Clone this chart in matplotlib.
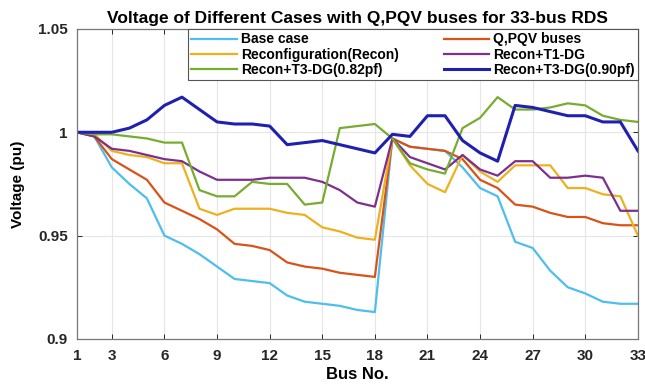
import matplotlib
matplotlib.use("Agg")
import matplotlib.pyplot as plt
import numpy as np

plt.rcParams['font.family'] = ['Liberation Sans', 'DejaVu Sans']

bus = np.arange(1, 34)

base_case = [1.000, 0.998, 0.983, 0.975, 0.968, 0.950, 0.946, 0.941, 0.935, 0.929,
             0.928, 0.927, 0.921, 0.918, 0.917, 0.916, 0.914, 0.913, 0.997, 0.993,
             0.992, 0.991, 0.983, 0.973, 0.969, 0.947, 0.944, 0.933, 0.925, 0.922,
             0.918, 0.917, 0.917]
q_pqv = [1.000, 0.998, 0.987, 0.982, 0.977, 0.966, 0.962, 0.958, 0.953, 0.946,
         0.945, 0.943, 0.937, 0.935, 0.934, 0.932, 0.931, 0.930, 0.997, 0.993,
         0.992, 0.991, 0.987, 0.977, 0.973, 0.965, 0.964, 0.961, 0.959, 0.959,
         0.956, 0.955, 0.955]
recon = [1.000, 0.999, 0.991, 0.989, 0.988, 0.985, 0.985, 0.963, 0.960, 0.963,
         0.963, 0.963, 0.961, 0.960, 0.954, 0.952, 0.949, 0.948, 0.997, 0.984,
         0.975, 0.971, 0.989, 0.981, 0.976, 0.984, 0.984, 0.984, 0.973, 0.973,
         0.970, 0.969, 0.950]
recon_t1 = [1.000, 0.998, 0.992, 0.991, 0.989, 0.987, 0.986, 0.981, 0.977, 0.977,
            0.977, 0.978, 0.978, 0.978, 0.976, 0.972, 0.966, 0.964, 0.997, 0.988,
            0.985, 0.982, 0.989, 0.982, 0.979, 0.986, 0.986, 0.978, 0.978, 0.979,
            0.978, 0.962, 0.962]
recon_t3_082 = [1.000, 0.999, 0.999, 0.998, 0.997, 0.995, 0.995, 0.972, 0.969, 0.969,
                0.976, 0.975, 0.975, 0.965, 0.966, 1.002, 1.003, 1.004, 0.997, 0.985,
                0.982, 0.980, 1.002, 1.007, 1.017, 1.011, 1.011, 1.012, 1.014, 1.013,
                1.008, 1.006, 1.005]
recon_t3_090 = [1.000, 1.000, 1.000, 1.002, 1.006, 1.013, 1.017, 1.011, 1.005, 1.004,
                1.004, 1.003, 0.994, 0.995, 0.996, 0.994, 0.992, 0.990, 0.999, 0.998,
                1.008, 1.008, 0.996, 0.990, 0.986, 1.013, 1.012, 1.010, 1.008, 1.008,
                1.005, 1.005, 0.991]

xticks = [1, 3, 6, 9, 12, 15, 18, 21, 24, 27, 30, 33]
yticks = [0.9, 0.95, 1.0, 1.05]
ytick_labels = ['0.9', '0.95', '1', '1.05']

fig = plt.figure(figsize=(6.45, 3.86), dpi=100)
ax = fig.add_axes([0.119, 0.122, 0.870, 0.803])

l1, = ax.plot(bus, base_case, color='#4DBEEE', lw=1.6, label='Base case')
l2, = ax.plot(bus, q_pqv, color='#D95319', lw=1.6, label='Q,PQV buses')
l3, = ax.plot(bus, recon, color='#EDB120', lw=1.6, label='Reconfiguration(Recon)')
l4, = ax.plot(bus, recon_t1, color='#7E2F8E', lw=1.6, label='Recon+T1-DG')
l5, = ax.plot(bus, recon_t3_082, color='#77AC30', lw=1.6, label='Recon+T3-DG(0.82pf)')
l6, = ax.plot(bus, recon_t3_090, color='#2020B0', lw=2.2, label='Recon+T3-DG(0.90pf)')

ax.set_xlim(1, 33)
ax.set_ylim(0.9, 1.05)
ax.set_xticks(xticks)
ax.set_yticks(yticks)
ax.set_yticklabels(ytick_labels)
ax.grid(True, color='#E6E6E6', lw=0.8)
ax.set_axisbelow(True)
for s in ax.spines.values():
    s.set_color('#777777')
    s.set_linewidth(0.9)
ax.tick_params(labelsize=11, colors='#262626', direction='in', length=3.5, width=0.7,
               top=True, right=True)
ax.tick_params(axis='y', pad=6.5)
ax.tick_params(axis='x', pad=7)
for lab in ax.get_xticklabels() + ax.get_yticklabels():
    lab.set_fontweight('bold')

ax.set_title('Voltage of Different Cases with Q,PQV buses for 33-bus RDS',
             fontsize=12.5, fontweight='bold', pad=4)
ax.set_xlabel('Bus No.', fontsize=12, fontweight='bold', labelpad=3)
ax.set_ylabel('Voltage (pu)', fontsize=11, fontweight='bold', labelpad=9)

# row-wise order like the original
handles = [l1, l3, l5, l2, l4, l6]
leg = ax.legend(handles, [h.get_label() for h in handles], ncol=2,
                loc='upper left', bbox_to_anchor=(0.198, 1.0, 0.802, 0.0),
                mode='expand', borderaxespad=0,
                prop={'size': 10, 'weight': 'bold'}, fancybox=False, framealpha=1,
                edgecolor='#555555', handlelength=3.3, handletextpad=0.25,
                columnspacing=0.6, labelspacing=0.08, borderpad=0.25)
leg.get_frame().set_linewidth(0.8)

fig.savefig('out.png', dpi=100)
